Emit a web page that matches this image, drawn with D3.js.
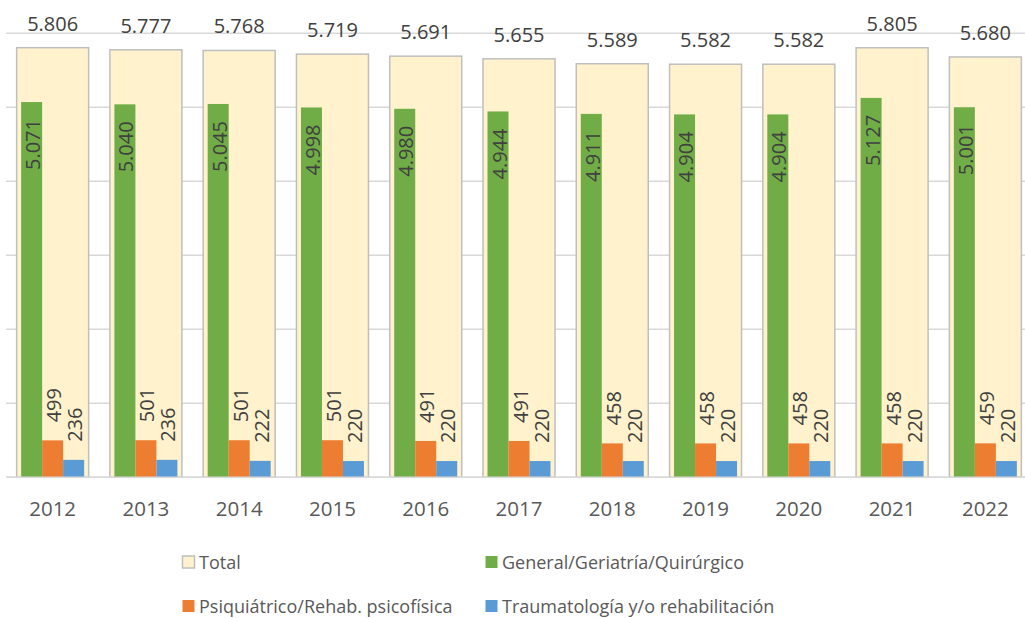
<!DOCTYPE html>
<html>
<head>
<meta charset="utf-8">
<script src="https://cdn.jsdelivr.net/npm/d3@7"></script>
<style>
  body { margin: 0; background: #fff; }
  svg { display: block; font-family: "Open Sans", sans-serif; }
</style>
</head>
<body>
<svg id="chart" width="1025" height="618"></svg>
<script>
var years = ["2012", "2013", "2014", "2015", "2016", "2017", "2018", "2019", "2020", "2021", "2022"];
var total = [5806, 5777, 5768, 5719, 5691, 5655, 5589, 5582, 5582, 5805, 5680];
var general = [5071, 5040, 5045, 4998, 4980, 4944, 4911, 4904, 4904, 5127, 5001];
var psiquiatrico = [499, 501, 501, 501, 491, 491, 458, 458, 458, 458, 459];
var trauma = [236, 236, 222, 220, 220, 220, 220, 220, 220, 220, 220];
var yTicks = [0, 1000, 2000, 3000, 4000, 5000, 6000];

var series = [
  { name: "General/Geriatría/Quirúrgico", values: general, color: "#70AD47" },
  { name: "Psiquiátrico/Rehab. psicofísica", values: psiquiatrico, color: "#ED7D31" },
  { name: "Traumatología y/o rehabilitación", values: trauma, color: "#5B9BD5" }
];

var width = 1025, height = 618;
var svg = d3.select("#chart");

// spanish number format 5.806
var es = d3.formatLocale({ decimal: ",", thousands: ".", grouping: [3], currency: ["", "€"] });
var fmt = es.format(",d");

var x = d3.scaleBand().domain(years).range([6, 1032]);
var y = d3.scaleLinear().domain([0, 6000]).range([477.3, 33.3]);
var inner = d3.scaleBand().domain(d3.range(series.length)).range([0, 63]);

var txtDark = "#404040";
var txtGray = "#595959";

// gridlines
svg.append("g").selectAll("line")
  .data(yTicks)
  .enter().append("line")
    .attr("x1", 6)
    .attr("x2", width)
    .attr("y1", function(d) { return y(d); })
    .attr("y2", function(d) { return y(d); })
    .attr("stroke", "#D9D9D9")
    .attr("stroke-width", 1.5);

// total bars (behind)
var totalW = 72;
svg.append("g").selectAll("rect")
  .data(years)
  .enter().append("rect")
    .attr("x", function(d) { return x(d) + (x.bandwidth() - totalW) / 2; })
    .attr("y", function(d, i) { return y(total[i]); })
    .attr("width", totalW)
    .attr("height", function(d, i) { return y(0) - y(total[i]); })
    .attr("fill", "#FFF2CC")
    .attr("stroke", "#BFBFBF")
    .attr("stroke-width", 1.5);

// total labels
svg.append("g").selectAll("text")
  .data(years)
  .enter().append("text")
    .attr("x", function(d) { return x(d) + x.bandwidth() / 2; })
    .attr("y", function(d, i) { return y(total[i]) - 17; })
    .attr("text-anchor", "middle")
    .attr("font-size", 20)
    .attr("fill", txtDark)
    .text(function(d, i) { return fmt(total[i]); });

// inner series bars
series.forEach(function(s, k) {
  var g = svg.append("g");
  var bx = function(d) { return x(d) + (x.bandwidth() - 63) / 2 + inner(k); };
  g.selectAll("rect")
    .data(years)
    .enter().append("rect")
      .attr("x", bx)
      .attr("y", function(d, i) { return y(s.values[i]); })
      .attr("width", inner.bandwidth())
      .attr("height", function(d, i) { return y(0) - y(s.values[i]); })
      .attr("fill", s.color);

  // rotated labels: first series inside end, others outside end
  g.selectAll("text")
    .data(years)
    .enter().append("text")
      .attr("transform", function(d, i) {
        var cx = bx(d) + inner.bandwidth() / 2 + 1;
        var cy = k == 0 ? y(s.values[i]) + 17 : y(s.values[i]) - 18;
        return "translate(" + cx + "," + cy + ") rotate(-90)";
      })
      .attr("text-anchor", k == 0 ? "end" : "start")
      .attr("dominant-baseline", "central")
      .attr("font-size", 20)
      .attr("fill", txtDark)
      .text(function(d, i) { return fmt(s.values[i]); });
});

// x axis
svg.append("line")
  .attr("x1", 6).attr("x2", width)
  .attr("y1", y(0)).attr("y2", y(0))
  .attr("stroke", "#D9D9D9")
  .attr("stroke-width", 1.5);

svg.append("g").selectAll("text")
  .data(years)
  .enter().append("text")
    .attr("x", function(d) { return x(d) + x.bandwidth() / 2; })
    .attr("y", 516)
    .attr("text-anchor", "middle")
    .attr("font-size", 20.5)
    .attr("fill", txtGray)
    .text(function(d) { return d; });

// legend
var legendItems = [
  { name: "Total", color: "#FFF2CC", stroke: "#BFBFBF", x: 182, y: 562 },
  { name: series[0].name, color: series[0].color, x: 485, y: 562 },
  { name: series[1].name, color: series[1].color, x: 182, y: 606 },
  { name: series[2].name, color: series[2].color, x: 485, y: 606 }
];
var leg = svg.append("g").selectAll("g")
  .data(legendItems)
  .enter().append("g")
    .attr("transform", function(d) { return "translate(" + d.x + "," + d.y + ")"; });
leg.append("rect")
  .attr("x", 0.5).attr("y", -6)
  .attr("width", 12).attr("height", 12)
  .attr("fill", function(d) { return d.color; })
  .attr("stroke", function(d) { return d.stroke || "none"; })
  .attr("stroke-width", 1.5);
leg.append("text")
  .attr("x", 17)
  .attr("y", 0)
  .attr("dominant-baseline", "central")
  .attr("font-size", 18)
  .attr("fill", txtGray)
  .text(function(d) { return d.name; });
</script>
</body>
</html>
